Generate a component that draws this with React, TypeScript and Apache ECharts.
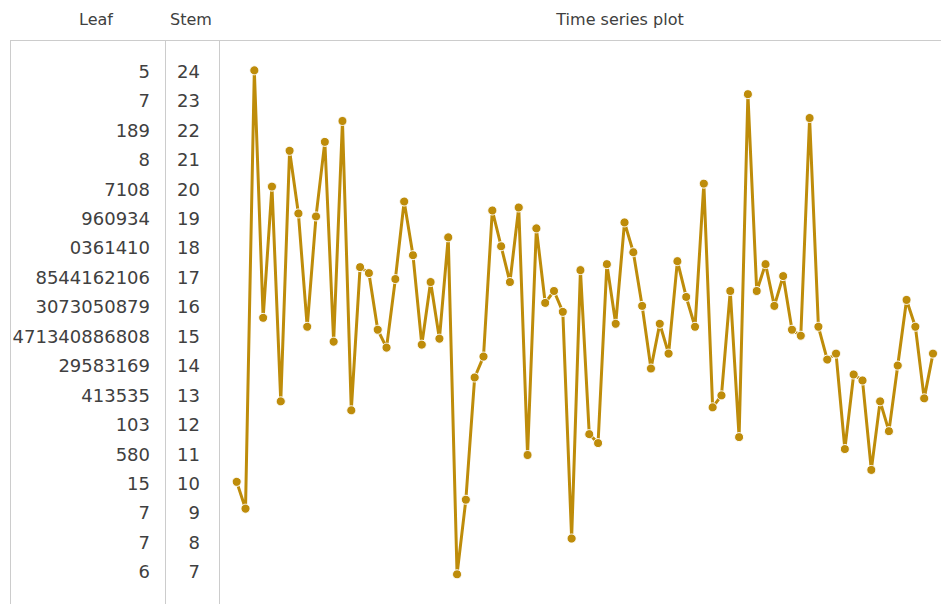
import React, { useEffect, useRef } from "react";
import * as echarts from "echarts";

const stems = [24, 23, 22, 21, 20, 19, 18, 17, 16, 15, 14, 13, 12, 11, 10, 9, 8, 7];
const leaves = [
  "5", "7", "189", "8", "7108", "960934", "0361410", "8544162106", "3073050879",
  "471340886808", "29583169", "413535", "103", "580", "15", "7", "7", "6",
];
const values = [
  10.7, 9.8, 24.5, 16.2, 20.6, 13.4, 21.8, 19.7, 15.9, 19.6,
  22.1, 15.4, 22.8, 13.1, 17.9, 17.7, 15.8, 15.2, 17.5, 20.1,
  18.3, 15.3, 17.4, 15.5, 18.9, 7.6, 10.1, 14.2, 14.9, 19.8,
  18.6, 17.4, 19.9, 11.6, 19.2, 16.7, 17.1, 16.4, 8.8, 17.8,
  12.3, 12.0, 18.0, 16.0, 19.4, 18.4, 16.6, 14.5, 16.0, 15.0,
  18.1, 16.9, 15.9, 20.7, 13.2, 13.6, 17.1, 12.2, 23.7, 17.1,
  18.0, 16.6, 17.6, 15.8, 15.6, 22.9, 15.9, 14.8, 15.0, 11.8,
  14.3, 14.1, 11.1, 13.4, 12.4, 14.6, 16.8, 15.9, 13.5, 15.0,
];
const headers = ["Leaf", "Stem", "Time series plot"];

const FONT = "DejaVu Sans";
const TEXT = "#404040";
const GOLD = "#be8c0a";
const RULE = "#cccccc";

export default function App() {
  const ref = useRef<HTMLDivElement>(null);
  useEffect(() => {
    if (!ref.current) return;
    const chart = echarts.init(ref.current, undefined, { renderer: "svg" });
    const idx = values.map((_, i) => String(i + 1));
    chart.setOption({
      animation: false,
      backgroundColor: "#fff",
      textStyle: { fontFamily: FONT },
      grid: [
        { left: 208, width: 1, top: 56.5, height: 530 },
        { left: 236.7, right: 8, top: 55.4, height: 536.8 },
      ],
      xAxis: [
        { type: "value", gridIndex: 0, show: false },
        { type: "category", gridIndex: 1, data: idx, boundaryGap: false, show: false },
      ],
      yAxis: [
        {
          type: "category",
          gridIndex: 0,
          inverse: true,
          data: stems.map(String),
          axisLine: { show: false },
          axisTick: { show: false },
          splitLine: { show: false },
          axisLabel: { margin: 8, color: TEXT, fontSize: 18, fontFamily: FONT, interval: 0 },
        },
        {
          type: "category",
          gridIndex: 0,
          inverse: true,
          position: "left",
          offset: 50,
          data: leaves,
          axisLine: { show: false },
          axisTick: { show: false },
          splitLine: { show: false },
          axisLabel: { margin: 8, color: TEXT, fontSize: 18, fontFamily: FONT, interval: 0 },
        },
        { type: "value", gridIndex: 1, min: 7, max: 25, show: false },
      ],
      graphic: [
        { type: "line", shape: { x1: 10, y1: 40.5, x2: 941, y2: 40.5 }, style: { stroke: RULE, lineWidth: 1 } },
        { type: "line", shape: { x1: 10.5, y1: 40.5, x2: 10.5, y2: 604 }, style: { stroke: RULE, lineWidth: 1 } },
        { type: "line", shape: { x1: 165.5, y1: 40.5, x2: 165.5, y2: 604 }, style: { stroke: RULE, lineWidth: 1 } },
        { type: "line", shape: { x1: 219.5, y1: 40.5, x2: 219.5, y2: 604 }, style: { stroke: RULE, lineWidth: 1 } },
        { type: "text", x: 96, y: 19, style: { text: headers[0], fill: TEXT, font: `16px "${FONT}"`, textAlign: "center", textVerticalAlign: "middle" } },
        { type: "text", x: 191, y: 19, style: { text: headers[1], fill: TEXT, font: `16px "${FONT}"`, textAlign: "center", textVerticalAlign: "middle" } },
        { type: "text", x: 620, y: 19, style: { text: headers[2], fill: TEXT, font: `16px "${FONT}"`, textAlign: "center", textVerticalAlign: "middle" } },
      ],
      series: [
        {
          type: "line",
          xAxisIndex: 1,
          yAxisIndex: 2,
          data: values,
          symbol: "circle",
          symbolSize: 9,
          showSymbol: true,
          showAllSymbol: true,
          lineStyle: { color: GOLD, width: 3 },
          itemStyle: { color: GOLD, borderColor: "#fff", borderWidth: 1 },
          emphasis: { disabled: true },
        },
      ],
    });
    return () => chart.dispose();
  }, []);
  return (
    <div
      ref={ref}
      style={{ position: "fixed", left: 0, top: 0, width: 941, height: 604, background: "#fff" }}
    />
  );
}
